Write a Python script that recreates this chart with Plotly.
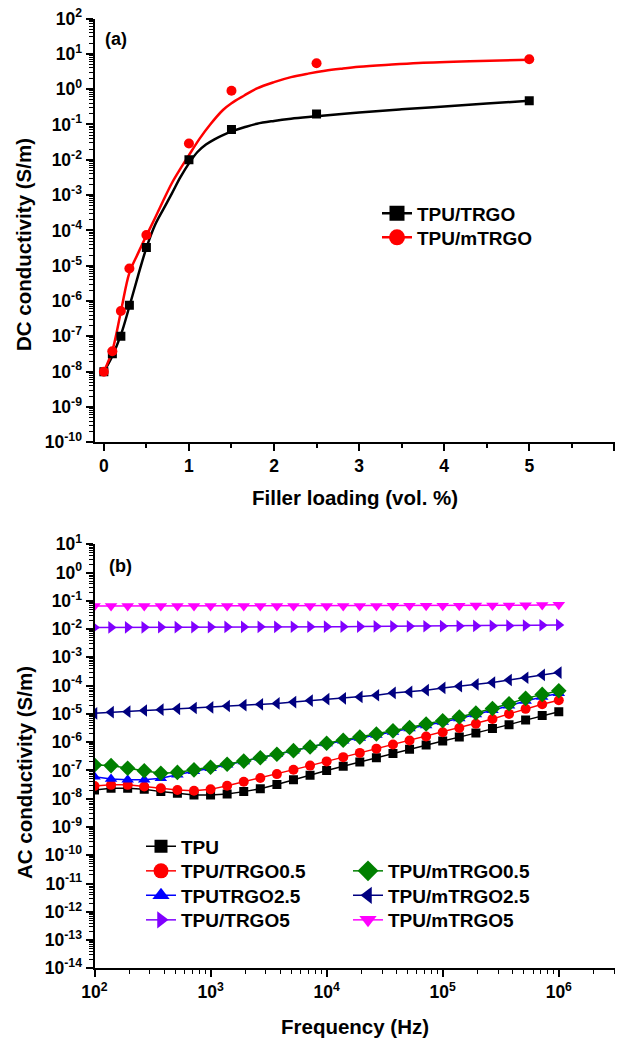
import plotly.graph_objects as go

# ---------------- Panel (a) data ----------------
loading = [0, 0.1, 0.2, 0.3, 0.5, 1.0, 1.5, 2.5, 5.0]
dc_trgo = [1.0e-8, 3.2e-8, 1.0e-7, 7.6e-7, 3.3e-5, 1.0e-2, 7.2e-2, 0.197, 0.47]
dc_mtrgo = [1.0e-8, 3.8e-8, 5.2e-7, 8.3e-6, 7.4e-5, 2.9e-2, 0.90, 5.4, 7.0]

# fitted curves, points
fit_trgo_x = [0, 0.1, 0.2, 0.3, 0.4, 0.5, 0.6, 0.7, 0.8, 0.9, 1.0, 1.1, 1.2, 1.3, 1.4,
              1.5, 1.65, 1.8, 2.0, 2.2, 2.5, 3.0, 3.5, 4.0, 4.5, 5.0]
fit_trgo_y = [1.0e-8, 2.8e-8, 1.1e-7, 7.0e-7, 5.0e-6, 3.2e-5, 1.4e-4, 4.0e-4, 1.12e-3, 3.2e-3,
              7.9e-3, 1.66e-2, 2.7e-2, 3.8e-2, 5.0e-2, 6.3e-2, 8.3e-2, 0.105, 0.126, 0.145,
              0.17, 0.219, 0.269, 0.324, 0.389, 0.468]
fit_mtrgo_x = [0, 0.1, 0.2, 0.3, 0.4, 0.5, 0.6, 0.7, 0.8, 0.9, 1.0, 1.13, 1.25, 1.4, 1.5,
               1.65, 1.8, 2.0, 2.2, 2.4, 2.6, 2.8, 3.0, 3.35, 3.7, 4.3, 5.0]
fit_mtrgo_y = [1.0e-8, 4.0e-8, 5.0e-7, 6.3e-6, 2.2e-5, 7.1e-5, 2.2e-4, 7.1e-4, 2.2e-3, 5.6e-3,
               1.35e-2, 4.1e-2, 0.10, 0.257, 0.40, 0.66, 1.05, 1.58, 2.19, 2.75, 3.31, 3.80,
               4.27, 4.90, 5.50, 6.17, 6.76]

# ---------------- Panel (b) data ----------------
freq = [100, 138.9, 193.1, 268.3, 372.8, 517.9, 719.7, 1000, 1389, 1931, 2683, 3728, 5179,
        7197, 10000, 13895, 19307, 26827, 37276, 51795, 71969, 100000, 138950, 193070,
        268270, 372760, 517950, 719690, 1000000]
ac_tpu = [2.04e-8, 2.34e-8, 2.34e-8, 2.14e-8, 1.78e-8, 1.55e-8, 1.35e-8, 1.35e-8, 1.48e-8,
          1.78e-8, 2.24e-8, 3.16e-8, 4.68e-8, 6.76e-8, 1.0e-7, 1.41e-7, 2.0e-7, 2.82e-7,
          3.98e-7, 5.62e-7, 7.94e-7, 1.10e-6, 1.51e-6, 2.09e-6, 3.02e-6, 4.17e-6, 6.03e-6,
          8.71e-6, 1.20e-5]
ac_trgo05 = [2.82e-8, 3.09e-8, 3.09e-8, 2.69e-8, 2.34e-8, 2.04e-8, 1.91e-8, 2.14e-8, 2.88e-8,
             3.98e-8, 5.37e-8, 7.41e-8, 1.05e-7, 1.48e-7, 2.09e-7, 2.95e-7, 4.17e-7, 5.89e-7,
             8.32e-7, 1.15e-6, 1.58e-6, 2.24e-6, 3.16e-6, 4.47e-6, 6.61e-6, 1.0e-5, 1.51e-5,
             2.19e-5, 3.02e-5]
ac_trgo25 = [6.03e-8, 5.01e-8, 4.68e-8, 4.68e-8, 5.25e-8, 7.08e-8, 9.33e-8, 1.20e-7, 1.58e-7,
             2.09e-7, 2.82e-7, 3.80e-7, 5.01e-7, 6.92e-7, 8.91e-7, 1.12e-6, 1.41e-6, 1.78e-6,
             2.29e-6, 3.02e-6, 3.89e-6, 5.13e-6, 6.92e-6, 9.55e-6, 1.35e-5, 1.95e-5, 2.88e-5,
             3.98e-5, 5.37e-5]
ac_trgo5 = [0.0115, 0.0115, 0.0116, 0.0116, 0.0117, 0.0117, 0.0118, 0.0118, 0.0119, 0.0119,
            0.0120, 0.0120, 0.0121, 0.0121, 0.0122, 0.0122, 0.0123, 0.0124, 0.0125, 0.0125,
            0.0126, 0.0127, 0.0128, 0.0129, 0.0130, 0.0132, 0.0134, 0.0137, 0.0140]
ac_mtrgo05 = [1.55e-7, 1.48e-7, 1.20e-7, 9.77e-8, 7.94e-8, 8.51e-8, 1.05e-7, 1.29e-7, 1.66e-7,
              2.14e-7, 2.82e-7, 3.72e-7, 5.01e-7, 6.76e-7, 9.12e-7, 1.17e-6, 1.51e-6, 1.95e-6,
              2.51e-6, 3.31e-6, 4.37e-6, 5.75e-6, 7.76e-6, 1.07e-5, 1.55e-5, 2.29e-5, 3.55e-5,
              4.90e-5, 6.61e-5]
ac_mtrgo25 = [1.05e-5, 1.15e-5, 1.20e-5, 1.32e-5, 1.41e-5, 1.51e-5, 1.62e-5, 1.70e-5, 1.90e-5,
              2.04e-5, 2.19e-5, 2.34e-5, 2.63e-5, 2.95e-5, 3.31e-5, 3.55e-5, 3.98e-5, 4.57e-5,
              5.50e-5, 6.00e-5, 6.90e-5, 8.30e-5, 9.50e-5, 1.10e-4, 1.29e-4, 1.58e-4, 1.90e-4,
              2.40e-4, 2.90e-4]
ac_mtrgo5 = [0.066, 0.066, 0.066, 0.066, 0.066, 0.066, 0.066, 0.066, 0.066, 0.066, 0.066,
             0.066, 0.066, 0.066, 0.066, 0.066, 0.066, 0.066, 0.067, 0.067, 0.067, 0.067,
             0.067, 0.068, 0.068, 0.069, 0.070, 0.071, 0.073]

# tick labels
a_xticks = [0, 1, 2, 3, 4, 5, 6]
a_yexp = list(range(-10, 3))
b_xexp = [2, 3, 4, 5, 6]
b_yexp = list(range(-14, 2))

FONT = "Liberation Sans, Arial, sans-serif"
W, H = 619, 1044
XDOM = [94.5 / W, 614.5 / W]
A_YDOM = [1 - 442.3 / H, 1 - 18.5 / H]
B_YDOM = [1 - 968.3 / H, 1 - 544.3 / H]
A_XRANGE = [-0.11, 6.002]

fig = go.Figure()

# ---- panel (a) ----
fig.add_trace(go.Scatter(x=fit_trgo_x, y=fit_trgo_y, mode="lines", line=dict(color="black", width=2.5, shape="spline", smoothing=1),
                         showlegend=False, xaxis="x", yaxis="y", hoverinfo="skip"))
fig.add_trace(go.Scatter(x=fit_mtrgo_x, y=fit_mtrgo_y, mode="lines", line=dict(color="#FF0000", width=2.5, shape="spline", smoothing=1),
                         showlegend=False, xaxis="x", yaxis="y", hoverinfo="skip"))
fig.add_trace(go.Scatter(x=loading, y=dc_trgo, mode="markers", marker=dict(symbol="square", size=9, color="black"),
                         showlegend=False, xaxis="x", yaxis="y"))
fig.add_trace(go.Scatter(x=loading, y=dc_mtrgo, mode="markers", marker=dict(symbol="circle", size=10, color="#FF0000"),
                         showlegend=False, xaxis="x", yaxis="y"))

# legend entries: (name, color, symbol, legend marker size, line width, axes, marker-center x px, row y px)
legend_entries = [
    ("TPU/TRGO", "black", "square", 15, 2.5, ("x", "y"), 398, 213.5),
    ("TPU/mTRGO", "#FF0000", "circle", 16, 2.5, ("x", "y"), 398, 237.5),
    ("TPU", "black", "square", 13, 1.5, ("x2", "y2"), 162, 846.5),
    ("TPU/TRGO0.5", "#FF0000", "circle", 15, 1.5, ("x2", "y2"), 162, 871),
    ("TPUTRGO2.5", "#0000FF", "triangle-up", 15, 1.5, ("x2", "y2"), 162, 895.5),
    ("TPU/TRGO5", "#8000FF", "triangle-right", 15, 1.5, ("x2", "y2"), 162, 920),
    ("TPU/mTRGO0.5", "#008000", "diamond", 16, 1.5, ("x2", "y2"), 369, 871),
    ("TPU/mTRGO2.5", "#000080", "triangle-left", 15, 1.5, ("x2", "y2"), 369, 895.5),
    ("TPU/mTRGO5", "#FF00FF", "triangle-down", 15, 1.5, ("x2", "y2"), 369, 920),
]

# ---- panel (b) ----
series_b = [
    ("TPU", ac_tpu, "black", "square", 9),
    ("TPU/TRGO0.5", ac_trgo05, "#FF0000", "circle", 10),
    ("TPUTRGO2.5", ac_trgo25, "#0000FF", "triangle-up", 11),
    ("TPU/mTRGO0.5", ac_mtrgo05, "#008000", "diamond", 12),
    ("TPU/mTRGO2.5", ac_mtrgo25, "#000080", "triangle-left", 11),
    ("TPU/TRGO5", ac_trgo5, "#8000FF", "triangle-right", 11),
    ("TPU/mTRGO5", ac_mtrgo5, "#FF00FF", "triangle-down", 11),
]
for name, ys, col, sym, ms in series_b:
    fig.add_trace(go.Scatter(x=freq, y=ys, mode="lines+markers", line=dict(color=col, width=1.5),
                             marker=dict(symbol=sym, size=ms, color=col), showlegend=False,
                             xaxis="x2", yaxis="y2"))

legend_layouts = {}
lfont = dict(family=FONT, size=19, color="black", weight="bold")
for i, (name, col, sym, lms, lw, (xa, ya), mx, ry) in enumerate(legend_entries):
    key = "legend" if i == 0 else "legend%d" % (i + 1)
    fig.add_trace(go.Scatter(x=[None], y=[None], mode="lines+markers", name=name,
                             line=dict(color=col, width=lw), marker=dict(symbol=sym, size=lms, color=col),
                             xaxis=xa, yaxis=ya, legend=key))
    legend_layouts[key] = dict(x=(mx - 21) / W, y=1 - ry / H, xanchor="left", yanchor="middle",
                               bgcolor="rgba(0,0,0,0)", font=lfont, borderwidth=0)

tickfont = dict(family=FONT, size=17.5, color="black", weight="bold")
axis_common = dict(showline=True, linecolor="black", linewidth=2, showgrid=False, zeroline=False,
                   tickcolor="black", tickwidth=1.5, tickfont=tickfont, automargin=False)
minor_out = dict(dtick="D1", ticks="outside", ticklen=4, tickcolor="black", tickwidth=1.2)
minor_in = dict(dtick="D1", ticks="inside", ticklen=4, tickcolor="black", tickwidth=1.2)

fig.update_layout(
    width=W, height=H, margin=dict(l=0, r=0, t=0, b=0),
    paper_bgcolor="white", plot_bgcolor="white",
    font=dict(family=FONT, color="black"),
    xaxis=dict(domain=XDOM, anchor="y", range=A_XRANGE, tickvals=a_xticks, ticktext=[str(v) for v in a_xticks],
               ticks="outside", ticklen=7, minor=dict(dtick=0.5, ticks="outside", ticklen=4, tickcolor="black", tickwidth=1.5),
               **axis_common),
    yaxis=dict(domain=A_YDOM, anchor="x", type="log", range=[-10, 2],
               tickvals=[10.0 ** e for e in a_yexp], ticktext=["10<sup>%d</sup>" % e for e in a_yexp],
               ticks="outside", ticklen=7, minor=minor_out, **axis_common),
    xaxis3=dict(overlaying="x", side="top", anchor="y", range=A_XRANGE, dtick=0.5, tick0=0, ticks="inside", ticklen=7,
                showticklabels=False, **axis_common),
    yaxis3=dict(overlaying="y", side="right", anchor="x", type="log", range=[-10, 2], dtick=1, ticks="inside", ticklen=7,
                showticklabels=False, minor=minor_in, **axis_common),
    xaxis2=dict(domain=XDOM, anchor="y2", type="log", range=[2, 6.48],
                tickvals=[10.0 ** e for e in b_xexp], ticktext=["10<sup>%d</sup>" % e for e in b_xexp],
                ticks="outside", ticklen=7, minor=minor_out, **axis_common),
    yaxis2=dict(domain=B_YDOM, anchor="x2", type="log", range=[-14, 1],
                tickvals=[10.0 ** e for e in b_yexp], ticktext=["10<sup>%d</sup>" % e for e in b_yexp],
                ticks="outside", ticklen=7, minor=minor_out, **axis_common),
    xaxis4=dict(overlaying="x2", side="top", anchor="y2", type="log", range=[2, 6.48], dtick=1, ticks="inside", ticklen=7,
                showticklabels=False, minor=minor_in, **axis_common),
    yaxis4=dict(overlaying="y2", side="right", anchor="x2", type="log", range=[-14, 1], dtick=1, ticks="inside", ticklen=7,
                showticklabels=False, minor=minor_in, **axis_common),
    **legend_layouts,
)

title_font = dict(family=FONT, size=20.5, color="black", weight="bold")
ann = [
    dict(text="DC conductivity (S/m)", x=24 / W, y=1 - 245 / H, textangle=-90, font=title_font),
    dict(text="Filler loading (vol. %)", x=355 / W, y=1 - 497 / H, font=title_font),
    dict(text="AC conductivity (S/m)", x=24 / W, y=1 - 773 / H, textangle=-90, font=title_font),
    dict(text="Frequency (Hz)", x=355 / W, y=1 - 1026 / H, font=title_font),
    dict(text="(a)", x=103 / W, y=1 - 39 / H, xanchor="left", font=dict(family=FONT, size=18, color="black", weight="bold")),
    dict(text="(b)", x=107 / W, y=1 - 565.5 / H, xanchor="left", font=dict(family=FONT, size=18, color="black", weight="bold")),
]
for a in ann:
    a.update(xref="paper", yref="paper", showarrow=False)
    a.setdefault("xanchor", "center")
    a["yanchor"] = "middle"
fig.update_layout(annotations=ann)

fig.write_html("out.html", config={"displayModeBar": False},
               post_script="document.body.style.margin='0px';document.body.style.overflow='hidden';"
                           "document.documentElement.style.overflow='hidden';")
